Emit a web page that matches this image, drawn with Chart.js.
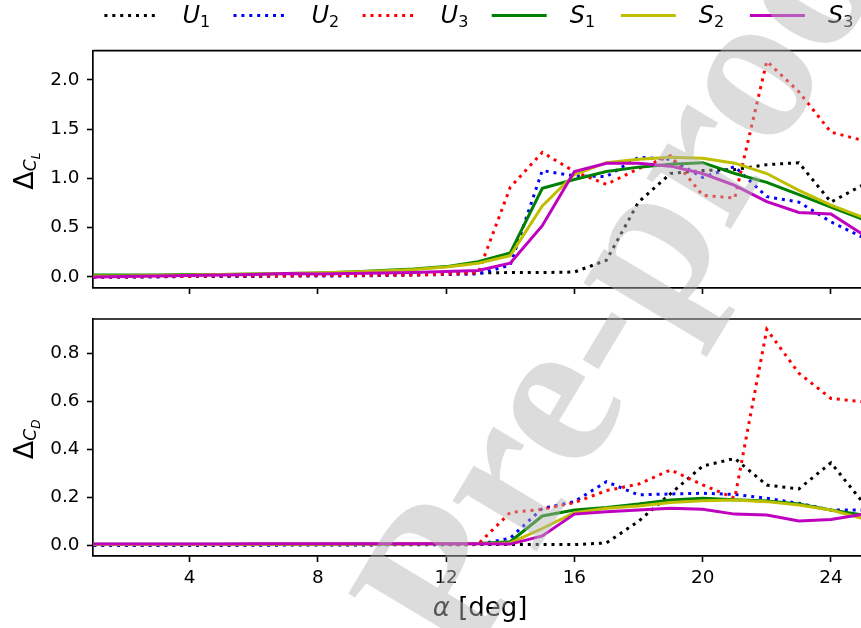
<!DOCTYPE html>
<html>
<head>
<meta charset="utf-8">
<script src="https://cdn.jsdelivr.net/npm/chart.js"></script>
<style>
html, body { margin: 0; padding: 0; background: #fff; overflow: hidden; width: 861px; height: 628px; }
canvas { position: absolute; left: 0; top: 0; }
</style>
</head>
<body>
<canvas id="clChart" width="870" height="628"></canvas>
<canvas id="cdChart" width="870" height="628"></canvas>
<script>
// angle of attack, deg
const alphaDeg = [1, 2, 3, 4, 5, 6, 7, 8, 9, 10, 11, 12, 13, 14, 15, 16, 17, 18, 19, 20, 21, 22, 23, 24, 25];
const xTicks = [4, 8, 12, 16, 20, 24];
const clTicks = [0, 0.5, 1.0, 1.5, 2.0];
const cdTicks = [0, 0.2, 0.4, 0.6, 0.8];

const seriesNames = ['U', 'U', 'U', 'S', 'S', 'S'];
const seriesSubs = ['1', '2', '3', '1', '2', '3'];
const seriesColors = ['#000000', '#0000ff', '#ff0000', '#008000', '#bfbf00', '#bf00bf'];
const seriesDotted = [true, true, true, false, false, false];

// delta C_L
const clU1 = [0.0, 0.0, 0.005, 0.005, 0.01, 0.01, 0.015, 0.015, 0.02, 0.025, 0.03, 0.035, 0.04, 0.045, 0.045, 0.05, 0.17, 0.76, 1.05, 1.08, 1.09, 1.14, 1.16, 0.76, 0.935];
const clU2 = [0.0, 0.0, 0.0, 0.005, 0.005, 0.005, 0.01, 0.01, 0.01, 0.015, 0.02, 0.025, 0.03, 0.12, 1.08, 1.025, 1.02, 1.215, 1.195, 1.01, 1.12, 0.815, 0.76, 0.56, 0.40];
const clU3 = [0.0, 0.0, 0.005, 0.005, 0.01, 0.01, 0.01, 0.015, 0.015, 0.02, 0.02, 0.03, 0.04, 0.91, 1.265, 1.07, 0.94, 1.10, 1.23, 0.83, 0.80, 2.19, 1.88, 1.47, 1.385];
const clS1 = [0.02, 0.02, 0.02, 0.025, 0.025, 0.03, 0.035, 0.04, 0.05, 0.065, 0.08, 0.105, 0.155, 0.245, 0.90, 0.99, 1.07, 1.115, 1.145, 1.16, 1.05, 0.96, 0.835, 0.71, 0.585];
const clS2 = [0.01, 0.01, 0.015, 0.02, 0.025, 0.03, 0.035, 0.04, 0.05, 0.06, 0.075, 0.10, 0.14, 0.215, 0.72, 1.04, 1.16, 1.195, 1.215, 1.205, 1.155, 1.05, 0.88, 0.73, 0.605];
const clS3 = [0.0, 0.005, 0.01, 0.015, 0.02, 0.025, 0.035, 0.03, 0.035, 0.04, 0.045, 0.055, 0.065, 0.14, 0.52, 1.07, 1.155, 1.155, 1.125, 1.05, 0.93, 0.765, 0.655, 0.64, 0.43];

// delta C_D
const cdU1 = [0.0, 0.0, 0.0, 0.0, 0.0, 0.002, 0.002, 0.002, 0.002, 0.003, 0.003, 0.003, 0.003, 0.003, 0.003, 0.003, 0.01, 0.10, 0.215, 0.33, 0.362, 0.251, 0.235, 0.344, 0.178];
const cdU2 = [0.0, 0.0, 0.0, 0.0, 0.0, 0.0, 0.001, 0.001, 0.001, 0.002, 0.002, 0.002, 0.003, 0.03, 0.154, 0.182, 0.265, 0.21, 0.214, 0.217, 0.212, 0.196, 0.175, 0.147, 0.147];
const cdU3 = [0.003, 0.003, 0.003, 0.003, 0.003, 0.004, 0.004, 0.004, 0.004, 0.004, 0.005, 0.005, 0.005, 0.137, 0.15, 0.178, 0.228, 0.255, 0.314, 0.252, 0.196, 0.90, 0.717, 0.612, 0.598];
const cdS1 = [0.004, 0.004, 0.004, 0.004, 0.004, 0.004, 0.004, 0.004, 0.005, 0.005, 0.006, 0.006, 0.008, 0.015, 0.122, 0.147, 0.158, 0.172, 0.189, 0.196, 0.19, 0.185, 0.172, 0.147, 0.126];
const cdS2 = [0.003, 0.003, 0.003, 0.003, 0.003, 0.004, 0.004, 0.004, 0.005, 0.005, 0.006, 0.006, 0.007, 0.01, 0.07, 0.136, 0.154, 0.164, 0.178, 0.186, 0.189, 0.182, 0.168, 0.147, 0.112];
const cdS3 = [0.005, 0.005, 0.005, 0.005, 0.005, 0.006, 0.006, 0.006, 0.006, 0.007, 0.007, 0.007, 0.006, 0.005, 0.039, 0.13, 0.14, 0.147, 0.154, 0.15, 0.13, 0.126, 0.101, 0.108, 0.13];

Chart.defaults.font.family = "'DejaVu Sans', sans-serif";
Chart.defaults.color = '#000';

function makeSets(lists) {
    return lists.map((vals, i) => ({
        label: seriesNames[i] + seriesSubs[i],
        data: vals.map((v, k) => ({ x: alphaDeg[k], y: v })),
        borderColor: seriesColors[i],
        borderWidth: 3,
        borderDash: seriesDotted[i] ? [3, 4.9] : [],
        borderCapStyle: 'butt',
        pointRadius: 0,
        tension: 0,
        order: lists.length - i
    }));
}

function xScale(showLabels) {
    return {
        type: 'linear',
        min: 1,
        max: 25,
        afterBuildTicks: s => { s.ticks = xTicks.map(v => ({ value: v })); },
        grid: { drawOnChartArea: false, drawTicks: true, tickLength: 6.3, tickWidth: 1.6, tickColor: '#000' },
        border: { display: true, color: '#000', width: 1.7 },
        ticks: { display: showLabels, padding: 5, font: { size: 18.4 }, color: '#000', maxRotation: 0 },
        afterFit: s => { s.height = showLabels ? 72.3 : 10; }
    };
}

function yScale(min, max, ticks) {
    return {
        type: 'linear',
        min: min,
        max: max,
        afterBuildTicks: s => { s.ticks = ticks.map(v => ({ value: v })); },
        grid: { drawOnChartArea: false, drawTicks: true, tickLength: 6.3, tickWidth: 1.6, tickColor: '#000' },
        border: { display: true, color: '#000', width: 1.7 },
        ticks: { padding: 7.5, font: { size: 18.4 }, color: '#000', callback: v => v.toFixed(1) },
        afterFit: s => { s.width = 93.3; }
    };
}

function drawRuns(ctx, runs, x, y) {
    let cx = x;
    runs.forEach(r => {
        ctx.font = r.font;
        ctx.fillText(r.t, cx, y + (r.dy || 0));
        cx += ctx.measureText(r.t).width;
    });
}

function runsWidth(ctx, runs) {
    let w = 0;
    runs.forEach(r => { ctx.font = r.font; w += ctx.measureText(r.t).width; });
    return w;
}

// top and right spines
const frame = {
    id: 'frame',
    afterDatasetsDraw(chart) {
        const { ctx, chartArea: a } = chart;
        ctx.save();
        ctx.strokeStyle = '#000';
        ctx.lineWidth = 1.7;
        ctx.beginPath();
        ctx.moveTo(a.left, a.top);
        ctx.lineTo(a.right, a.top);
        ctx.lineTo(a.right, a.bottom);
        ctx.stroke();
        ctx.restore();
    }
};

// delta label on the y axis, rotated
function yLabel(sub) {
    return {
        id: 'yLabel',
        afterDraw(chart) {
            const { ctx, chartArea: a } = chart;
            const runs = [
                { t: '\u0394', font: '27px "DejaVu Sans"' },
                { t: 'C', font: 'italic 17px "DejaVu Sans"', dy: 3 },
                { t: sub, font: 'italic 12px "DejaVu Sans"', dy: 7 }
            ];
            ctx.save();
            ctx.fillStyle = '#000';
            ctx.textBaseline = 'alphabetic';
            ctx.translate(32.5, (a.top + a.bottom) / 2 + 2);
            ctx.rotate(-Math.PI / 2);
            drawRuns(ctx, runs, -runsWidth(ctx, runs) / 2, 0);
            ctx.restore();
        }
    };
}

const legendRow = {
    id: 'legendRow',
    afterDraw(chart) {
        const ctx = chart.ctx;
        chart.data.datasets.forEach((ds, i) => {
            const x0 = 104.4 + i * 129.1;
            ctx.save();
            ctx.strokeStyle = ds.borderColor;
            ctx.lineWidth = ds.borderWidth;
            ctx.lineCap = 'butt';
            ctx.setLineDash(ds.borderDash);
            ctx.beginPath();
            ctx.moveTo(x0, 15.5);
            ctx.lineTo(x0 + 55, 15.5);
            ctx.stroke();
            ctx.fillStyle = '#000';
            drawRuns(ctx, [
                { t: seriesNames[i], font: 'italic 24px "DejaVu Sans"' },
                { t: seriesSubs[i], font: '16px "DejaVu Sans"', dy: 4 }
            ], x0 + 78, 22.7);
            ctx.restore();
        });
    }
};

const xLabel = {
    id: 'xLabel',
    afterDraw(chart) {
        const { ctx, chartArea: a } = chart;
        const runs = [
            { t: '\u03b1', font: 'italic 26px "DejaVu Sans"' },
            { t: ' [deg]', font: '26px "DejaVu Sans"' }
        ];
        ctx.save();
        ctx.fillStyle = '#000';
        drawRuns(ctx, runs, (a.left + a.right) / 2 + 2 - runsWidth(ctx, runs) / 2, 616);
        ctx.restore();
    }
};

const watermark = {
    id: 'watermark',
    afterDraw(chart) {
        const ctx = chart.ctx;
        ctx.save();
        ctx.translate(694, 290);
        ctx.rotate(-59 * Math.PI / 180);
        ctx.font = 'bold 214px "Liberation Serif"';
        ctx.textAlign = 'center';
        ctx.fillStyle = 'rgba(181,181,181,0.47)';
        ctx.fillText('Pre-proof', 0, 0);
        ctx.restore();
    }
};

const common = {
    responsive: false,
    animation: false,
    events: [],
    plugins: { legend: { display: false }, tooltip: { enabled: false } }
};

new Chart(document.getElementById('clChart').getContext('2d'), {
    type: 'line',
    data: { datasets: makeSets([clU1, clU2, clU3, clS1, clS2, clS3]) },
    options: {
        ...common,
        layout: { padding: { left: 0, right: 7, top: 50.7, bottom: 330.3 } },
        scales: { x: xScale(false), y: yScale(-0.109, 2.297, clTicks) }
    },
    plugins: [frame, yLabel('L'), legendRow]
});

new Chart(document.getElementById('cdChart').getContext('2d'), {
    type: 'line',
    data: { datasets: makeSets([cdU1, cdU2, cdU3, cdS1, cdS2, cdS3]) },
    options: {
        ...common,
        layout: { padding: { left: 0, right: 7, top: 319, bottom: 0 } },
        scales: { x: xScale(true), y: yScale(-0.0433, 0.943, cdTicks) }
    },
    plugins: [frame, yLabel('D'), xLabel, watermark]
});
</script>
</body>
</html>
